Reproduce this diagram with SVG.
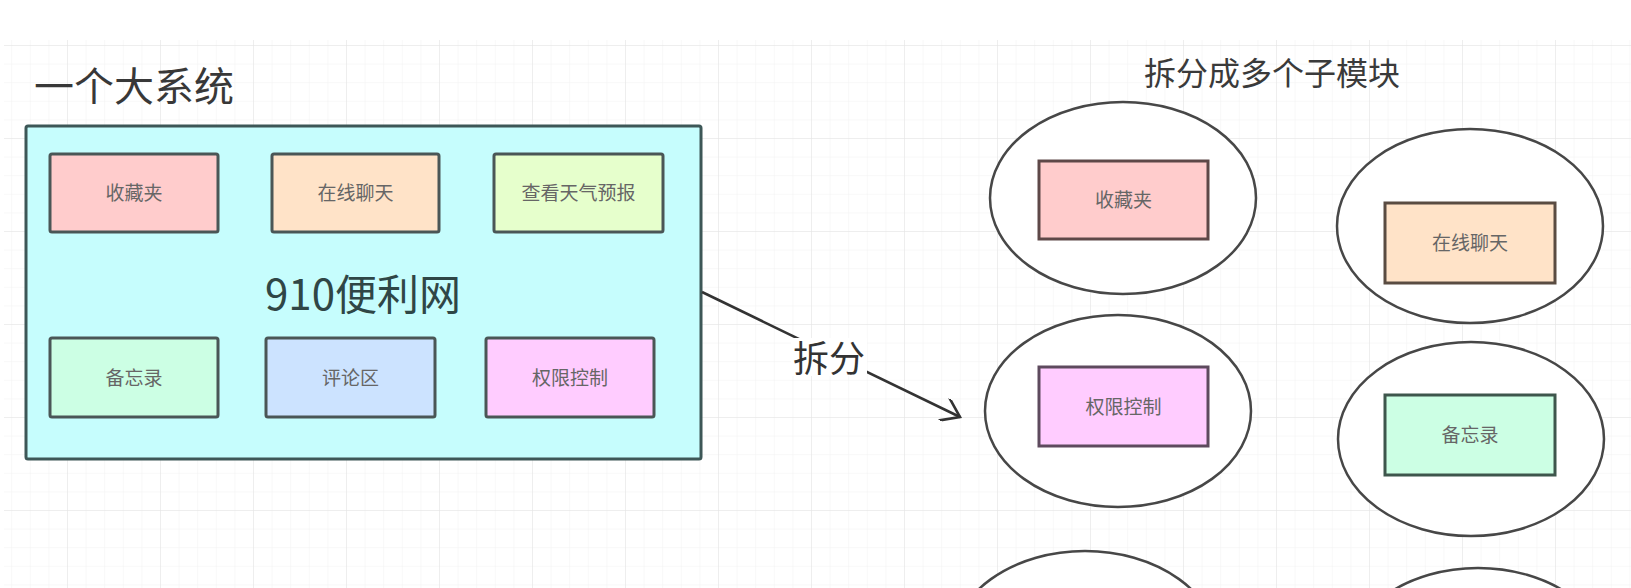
<svg xmlns="http://www.w3.org/2000/svg" width="1631" height="588" viewBox="0 0 1631 588">
  <defs>
    <pattern id="minor" patternUnits="userSpaceOnUse" x="67" y="45" width="18.6" height="18.6">
      <path d="M0,0 H18.6 M0,0 V18.6" fill="none" stroke="#f1f1f1" stroke-width="1"/>
    </pattern>
    <pattern id="major" patternUnits="userSpaceOnUse" x="67" y="45" width="93" height="93">
      <path d="M0,0 H93 M0,0 V93" fill="none" stroke="#e4e4e4" stroke-width="1"/>
    </pattern>
    <marker id="open" viewBox="0 0 24 24" refX="20" refY="12" markerWidth="24" markerHeight="24" markerUnits="userSpaceOnUse" orient="auto">
      <path d="M3,0 L20,12 L3,24" fill="none" stroke="#333" stroke-width="2.6" stroke-linecap="round"/>
    </marker>
  </defs>
  <style>
    text { font-family: "Noto Sans CJK SC", "Noto Sans", sans-serif; }
    .title { font-size: 40px; fill: #383838; }
    .subtitle { font-size: 32px; fill: #3a3a3a; }
    .lbl { font-size: 19px; fill: #666; text-anchor: middle; }
    .box { stroke-width: 3; }
    .left { stroke: #4a5656; }
    .ell { fill: #fff; stroke: #474747; stroke-width: 2.5; }
  </style>

  <rect x="0" y="0" width="1631" height="588" fill="#fff"/>
  <rect x="4" y="40" width="1627" height="548" fill="url(#minor)"/>
  <rect x="4" y="40" width="1627" height="548" fill="url(#major)"/>

  <g id="title-left">
    <text class="title" x="34" y="101">一个大系统</text>
  </g>
  <g id="title-right">
    <text class="subtitle" x="1144" y="85">拆分成多个子模块</text>
  </g>

  <g id="big-system">
    <rect x="26" y="126" width="675" height="333" rx="2" fill="#c6fdfd" stroke="#3d5757" stroke-width="3"/>
    <text x="363" y="310" font-size="42" fill="#2f4646" text-anchor="middle">910便利网</text>
  </g>

  <g id="left-shoucangjia">
    <rect class="box left" x="50" y="154" width="168" height="78" rx="2" fill="#ffcccc"/>
    <text class="lbl" x="134" y="200" fill="#6e5c5c">收藏夹</text>
  </g>
  <g id="left-zaixianliaotian">
    <rect class="box left" x="272" y="154" width="167" height="78" rx="2" fill="#ffe3c8"/>
    <text class="lbl" x="355.5" y="200">在线聊天</text>
  </g>
  <g id="left-tianqi">
    <rect class="box left" x="494" y="154" width="169" height="78" rx="2" fill="#e6ffcc"/>
    <text class="lbl" x="578.5" y="200">查看天气预报</text>
  </g>
  <g id="left-beiwanglu">
    <rect class="box left" x="50" y="338" width="168" height="79" rx="2" fill="#ccffe4"/>
    <text class="lbl" x="134" y="385">备忘录</text>
  </g>
  <g id="left-pinglunqu">
    <rect class="box left" x="266" y="338" width="169" height="79" rx="2" fill="#cce3ff"/>
    <text class="lbl" x="350.5" y="385">评论区</text>
  </g>
  <g id="left-quanxian">
    <rect class="box left" x="486" y="338" width="168" height="79" rx="2" fill="#ffccff"/>
    <text class="lbl" x="570" y="385">权限控制</text>
  </g>

  <g id="connectors">
    <line x1="702" y1="292" x2="960" y2="417" stroke="#333" stroke-width="2.6" marker-end="url(#open)"/>
    <rect x="791" y="338" width="76" height="38" fill="#fff"/>
    <text x="829" y="372" font-size="36" fill="#333" text-anchor="middle">拆分</text>
  </g>

  <g id="module-shoucangjia">
    <ellipse class="ell" cx="1123" cy="198" rx="133" ry="96"/>
    <rect class="box" x="1039" y="161" width="169" height="78" fill="#ffcccc" stroke="#5e4848"/>
    <text class="lbl" x="1123.5" y="207" fill="#6e5c5c">收藏夹</text>
  </g>
  <g id="module-zaixianliaotian">
    <ellipse class="ell" cx="1470" cy="226" rx="133" ry="97"/>
    <rect class="box" x="1385" y="203" width="170" height="80" fill="#ffe3c8" stroke="#5a4c42"/>
    <text class="lbl" x="1470" y="250">在线聊天</text>
  </g>
  <g id="module-quanxian">
    <ellipse class="ell" cx="1118" cy="411" rx="133" ry="96"/>
    <rect class="box" x="1039" y="367" width="169" height="79" fill="#ffccff" stroke="#5e4a5e"/>
    <text class="lbl" x="1123.5" y="414">权限控制</text>
  </g>
  <g id="module-beiwanglu">
    <ellipse class="ell" cx="1471" cy="439" rx="133" ry="97"/>
    <rect class="box" x="1385" y="395" width="170" height="80" fill="#ccffe4" stroke="#3e564c"/>
    <text class="lbl" x="1470" y="442">备忘录</text>
  </g>
  <g id="module-5">
    <ellipse class="ell" cx="1085" cy="647" rx="133" ry="96"/>
  </g>
  <g id="module-6">
    <ellipse class="ell" cx="1478" cy="665" rx="133" ry="97"/>
  </g>
</svg>
